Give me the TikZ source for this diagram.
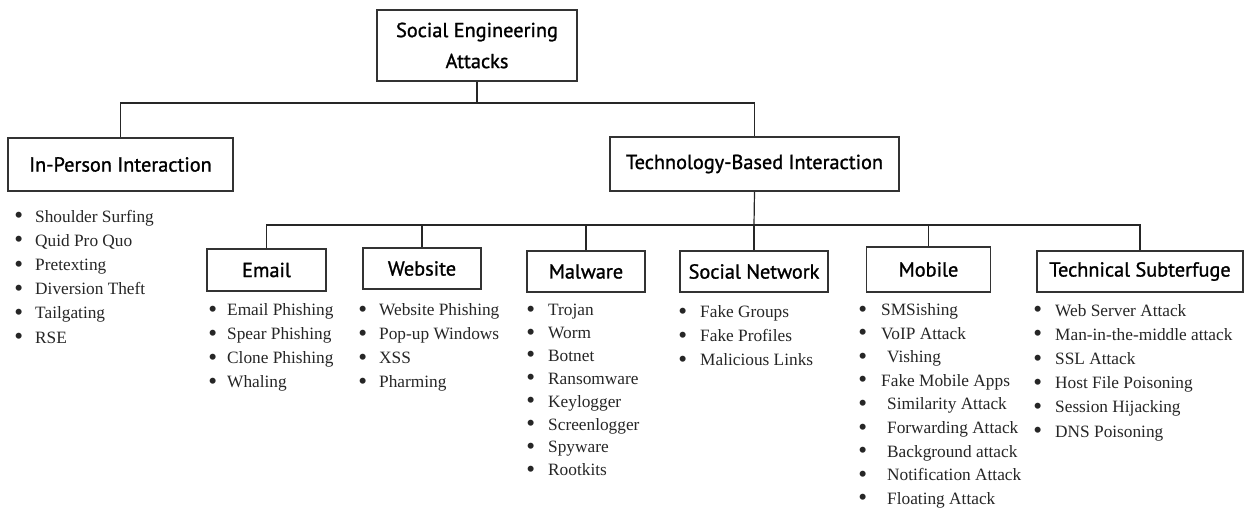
\documentclass[tikz,border=0pt]{standalone}
\usepackage{fontspec}
\setmainfont{Liberation Serif}
\newfontfamily\hand[FakeBold=1.2]{PT Sans}
\newcommand{\itm}[2]{\makebox[0pt][r]{\raisebox{-1.6pt}{\scalebox{1.45}{\textbullet}}\hspace{#1pt}}#2}
\begin{document}
\begin{tikzpicture}[x=1pt,y=-1pt,
  box/.style={draw=black!80, line width=1.4pt, inner sep=0pt, align=center,
    font=\hand\fontsize{20.3}{31}\selectfont},
  link/.style={draw=black!85, line width=1.2pt},
  item/.style={anchor=base west, inner sep=0pt, text=black!85,
    font=\fontsize{17.3}{20}\selectfont}]
\useasboundingbox[fill=white] (0,0) rectangle (1245,511);
% boxes
\node[box, minimum width=200pt, minimum height=71pt] (root) at (477,45.5) {Social Engineering\\Attacks};
\node[box, minimum width=225pt, minimum height=53pt] (inperson) at (120.5,164.5) {In-Person Interaction};
\node[box, minimum width=289pt, minimum height=54pt] (tech) at (754.5,164) {Technology-Based Interaction};
\node[box, minimum width=119pt, minimum height=42pt] (email) at (266.5,270) {Email};
\node[box, minimum width=118pt, minimum height=41pt] (website) at (422,268.5) {Website};
\node[box, minimum width=118pt, minimum height=41pt] (malware) at (586,271.5) {Malware};
\node[box, minimum width=148pt, minimum height=41pt] (social) at (754,271.5) {Social Network};
\node[box, minimum width=124pt, minimum height=45pt] (mobile) at (928.5,269.5) {Mobile};
\node[box, minimum width=206pt, minimum height=41pt] (techsub) at (1140,271.5) {Technical Subterfuge};
% connectors
\coordinate (top) at (477,103);
\coordinate (bus) at (754,225);
\draw[link] (root.south) -- (top);
\draw[link] (inperson.north) -- (inperson.north |- top) -- (tech.north |- top) -- (tech.north);
\draw[link] (tech.south) -- (bus);
\draw[link] (email.north) -- (email.north |- bus) -- (techsub.north |- bus) -- (techsub.north);
\draw[link] (website.north) -- (website.north |- bus);
\draw[link] (malware.north) -- (malware.north |- bus);
\draw[link] (social.north) -- (social.north |- bus);
\draw[link] (mobile.north) -- (mobile.north |- bus);
% lists
\foreach \t [count=\i] in {Shoulder Surfing, Quid Pro Quo, Pretexting, Diversion Theft, Tailgating, RSE}
  \node[item] (ip\i) at (35,{222+24.2*(\i-1)}) {\itm{12}{\t}};
\foreach \t [count=\i] in {Email Phishing, Spear Phishing, Clone Phishing, Whaling}
  \node[item] (em\i) at (227,{315.5+24*(\i-1)}) {\itm{10}{\t}};
\foreach \t [count=\i] in {Website Phishing, Pop-up Windows, XSS, Pharming}
  \node[item] (ws\i) at (379,{315.5+24*(\i-1)}) {\itm{12}{\t}};
\foreach \t [count=\i] in {Trojan, Worm, Botnet, Ransomware, Keylogger, Screenlogger, Spyware, Rootkits}
  \node[item] (mw\i) at (548,{315.5+22.9*(\i-1)}) {\itm{13}{\t}};
\foreach \t [count=\i] in {Fake Groups, Fake Profiles, Malicious Links}
  \node[item] (sn\i) at (700,{317.5+24*(\i-1)}) {\itm{13}{\t}};
\foreach \t/\g/\x [count=\i] in {SMSishing/14/881, VoIP Attack/14/881, Vishing/20/887, Fake Mobile Apps/14/881, Similarity Attack/20/887, Forwarding Attack/20/887, Background attack/20/887, Notification Attack/20/887, Floating Attack/20/887}
  \node[item] (mb\i) at (\x,{315.5+23.6*(\i-1)}) {\itm{\g}{\t}};
\foreach \t [count=\i] in {Web Server Attack, Man-in-the-middle attack, SSL Attack, Host File Poisoning, Session Hijacking, DNS Poisoning}
  \node[item] (ts\i) at (1055,{316+24.2*(\i-1)}) {\itm{13}{\t}};
\end{tikzpicture}
\end{document}
